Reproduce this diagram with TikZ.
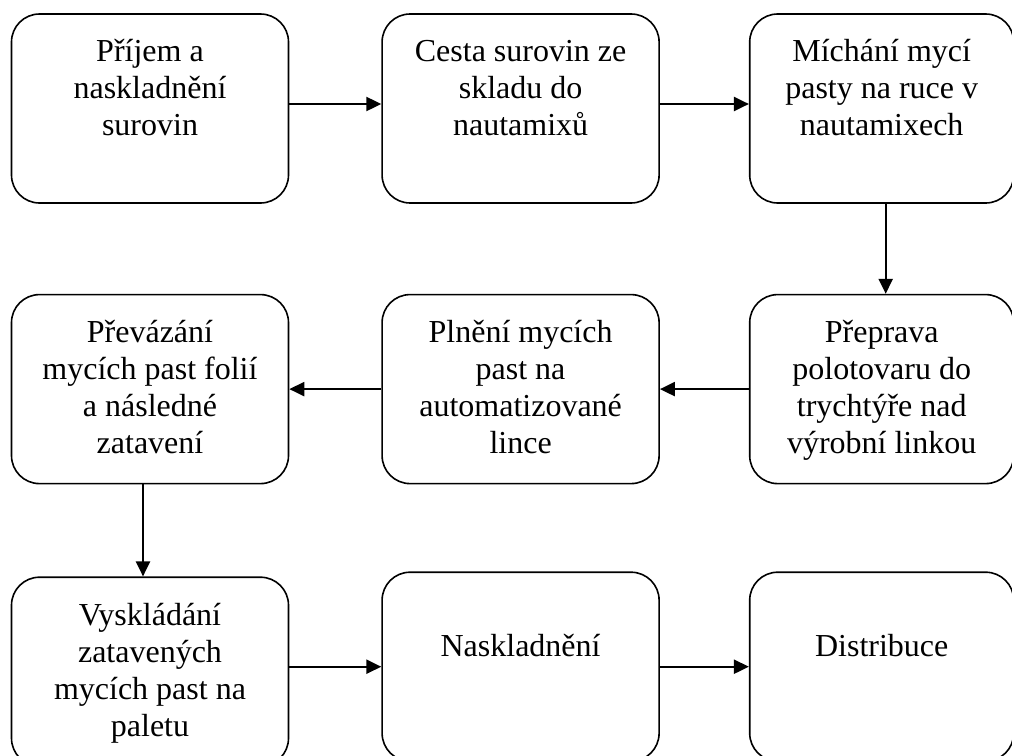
\documentclass[tikz,border=0pt]{standalone}
\usepackage{fontspec}
\setmainfont{Liberation Serif}
\usetikzlibrary{positioning,arrows.meta}

% text sits at the top of each box, optional extra drop
\newcommand{\boxtext}[2][0pt]{\parbox[c][145pt][t]{260pt}{\centering\vspace*{#1}\strut #2}}

\begin{document}
\begin{tikzpicture}[
  x=1pt, y=1pt,
  font=\fontsize{32pt}{37pt}\selectfont,
  box/.style={
    rectangle, rounded corners=28pt,
    draw=black, line width=1.6pt,
    minimum width=277pt, minimum height=189pt,
    inner sep=0pt
  },
  narrow/.style={box, minimum width=264pt},
  flow/.style={
    -{Triangle[length=15pt,width=14pt]},
    draw=black, line width=2.2pt
  }
]
\useasboundingbox (0,0) rectangle (1012,-755);

% ---- boxes ----------------------------------------------------------------
\node[box] (prijem) at (150,-108.5) {\boxtext{Příjem a\\naskladnění\\surovin}};
\node[box, right=92pt of prijem] (cesta) {\boxtext{Cesta surovin ze\\skladu do\\nautamixů}};
\node[narrow, right=89pt of cesta] (michani) {\boxtext{Míchání mycí\\pasty na ruce v\\nautamixech}};

\node[narrow, below=90pt of michani] (preprava) {\boxtext{Přeprava\\polotovaru do\\trychtýře nad\\výrobní linkou}};
\node[box, below=90pt of cesta] (plneni) {\boxtext{Plnění mycích\\past na\\automatizované\\lince}};
\node[box, below=90pt of prijem] (prevazani) {\boxtext{Převázání\\mycích past folií\\a následné\\zatavení}};

\node[box, below=92pt of prevazani] (vyskladani) {\boxtext{Vyskládání\\zatavených\\mycích past na\\paletu}};
\node[box, below=87pt of plneni] (naskladneni) {\boxtext[36pt]{Naskladnění}};
\node[narrow, below=87pt of preprava] (distribuce) {\boxtext[36pt]{Distribuce}};

% ---- arrows ---------------------------------------------------------------
\draw[flow] ([yshift=4.5pt]prijem.east) -- ([yshift=4.5pt]cesta.west);
\draw[flow] ([yshift=4.5pt]cesta.east)  -- ([yshift=4.5pt]michani.west);
\draw[flow] ([xshift=4pt]michani.south) -- ([xshift=4pt]preprava.north);
\draw[flow] (preprava) -- (plneni);
\draw[flow] (plneni)   -- (prevazani);
\draw[flow] ([xshift=-7pt]prevazani.south) -- ([xshift=-7pt]vyskladani.north);
\draw[flow] (vyskladani.east |- naskladneni.west) -- (naskladneni.west);
\draw[flow] (naskladneni) -- (distribuce);

\end{tikzpicture}
\end{document}
